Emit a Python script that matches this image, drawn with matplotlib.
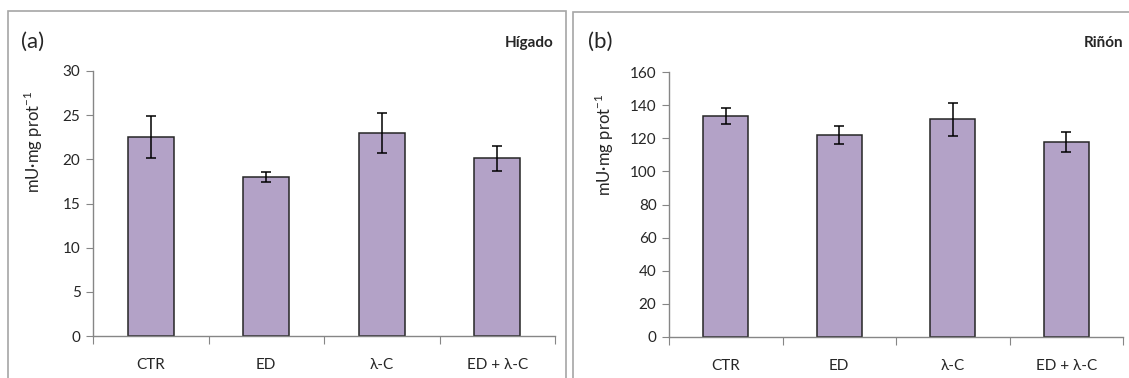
import matplotlib as mpl

mpl.use("Agg")
import matplotlib.pyplot as plt
from matplotlib.patches import Rectangle

plt.rcParams["font.family"] = ["Lato", "DejaVu Sans"]

groups = ["CTR", "ED", "λ-C", "ED + λ-C"]
liver_mean = [22.5, 18.0, 23.0, 20.1]
liver_err = [2.4, 0.55, 2.25, 1.45]
kidney_mean = [133.5, 122.0, 131.5, 118.0]
kidney_err = [5.0, 5.5, 10.0, 6.0]

BAR = "#b3a2c7"
AXIS = "#868686"
FRAME = "#a6a6a6"
TXT = "#262626"
W, H = 1129, 378

fig = plt.figure(figsize=(W / 100, H / 100), dpi=100)


def fx(px):
    return px / W


def fy(py):
    return 1 - py / H


# panel frames
for x0, x1, y0 in [(8, 566, 11), (573, 1135, 12)]:
    fig.patches.append(Rectangle((fx(x0), 0 - 0.01), fx(x1 - x0), fy(y0) + 0.01,
                                 transform=fig.transFigure, fill=False,
                                 edgecolor=FRAME, linewidth=1.2))


def panel(rect, means, errs, ymax, step, tag, organ, tag_x, organ_x, ylab_x, ylab_y):
    ax = fig.add_axes(rect)
    pos = range(1, len(groups) + 1)
    ax.bar(pos, means, width=0.4, color=BAR, edgecolor="#262626", linewidth=1.1, zorder=2)
    ax.errorbar(pos, means, yerr=errs, fmt="none", ecolor="black", elinewidth=1.1,
                capsize=3.5, capthick=1.1, zorder=3)
    ax.set_xlim(0.5, len(groups) + 0.5)
    ax.set_ylim(0, ymax)
    ax.set_yticks(range(0, ymax + 1, step))
    ax.set_xticks([i + 0.5 for i in range(len(groups) + 1)])
    ax.set_xticklabels([])
    ax.set_xticks(list(pos), minor=True)
    ax.set_xticklabels(groups, minor=True, fontsize=11, color=TXT)
    ax.tick_params(axis="x", which="major", length=6, color=AXIS, direction="out")
    ax.tick_params(axis="x", which="minor", length=0, pad=16)
    ax.tick_params(axis="y", length=5, color=AXIS, direction="out", labelsize=11,
                   labelcolor=TXT, pad=4)
    for side in ("top", "right"):
        ax.spines[side].set_visible(False)
    for side in ("left", "bottom"):
        ax.spines[side].set_color(AXIS)
        ax.spines[side].set_linewidth(1.0)
    fig.text(fx(tag_x), fy(42), tag, fontsize=16, ha="left", va="center", color=TXT)
    fig.text(fx(organ_x), fy(43), organ, fontsize=11, fontweight="bold", ha="right",
             va="center", color=TXT)
    fig.text(fx(ylab_x), fy(ylab_y), "mU·mg prot$^{\\mathregular{-1}}$", fontsize=12,
             rotation=90, ha="center", va="center", color=TXT)
    return ax


panel([fx(93), fy(336), fx(555 - 93), fy(71) - fy(336)], liver_mean, liver_err,
      30, 5, "(a)", "Hígado", 21, 553, 33, 142)
panel([fx(669), fy(337), fx(1123 - 669), fy(72) - fy(337)], kidney_mean, kidney_err,
      160, 20, "(b)", "Riñón", 588, 1123, 604, 145)

fig.savefig("out.png", dpi=100)
plt.close(fig)
